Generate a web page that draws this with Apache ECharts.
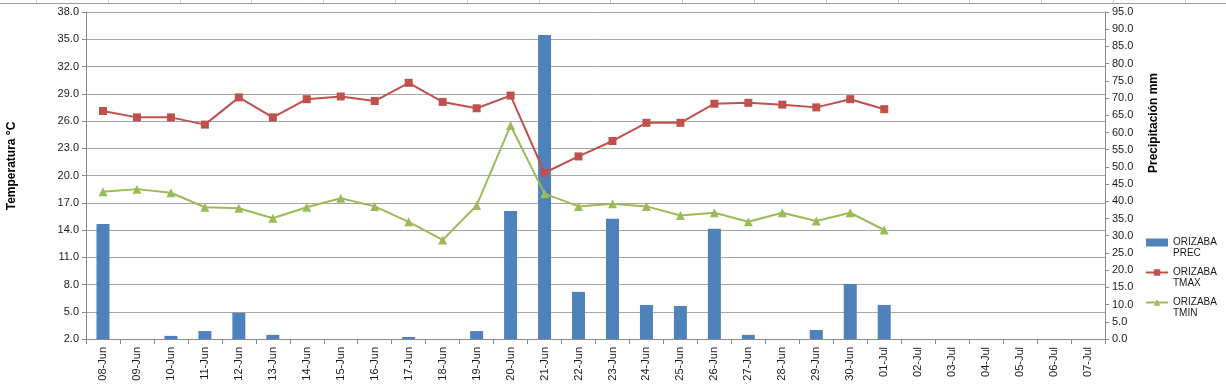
<!DOCTYPE html>
<html><head><meta charset="utf-8">
<script src="https://cdn.jsdelivr.net/npm/echarts@6/dist/echarts.min.js"></script>
<style>html,body{margin:0;padding:0;background:#fff}#c{width:1226px;height:392px}</style>
</head><body><div id="c"></div>
<script>
const categories = ['08-Jun','09-Jun','10-Jun','11-Jun','12-Jun','13-Jun','14-Jun','15-Jun','16-Jun','17-Jun','18-Jun','19-Jun','20-Jun','21-Jun','22-Jun','23-Jun','24-Jun','25-Jun','26-Jun','27-Jun','28-Jun','29-Jun','30-Jun','01-Jul','02-Jul','03-Jul','04-Jul','05-Jul','06-Jul','07-Jul'];
const precValues = [33.4,0,0.9,2.3,7.6,1.2,0,0,0,0.6,0,2.3,37.2,88.3,13.7,34.9,9.9,9.6,32.0,1.2,0,2.6,16.0,9.9,null,null,null,null,null,null];
const tmaxValues = [27.1,26.4,26.4,25.6,28.6,26.4,28.4,28.7,28.2,30.2,28.1,27.4,28.8,20.3,22.1,23.8,25.8,25.8,27.9,28.0,27.8,27.5,28.4,27.3,null,null,null,null,null,null];
const tminValues = [18.2,18.5,18.1,16.5,16.4,15.3,16.5,17.5,16.6,14.9,12.9,16.7,25.5,18.0,16.6,16.9,16.6,15.6,15.9,14.9,15.9,15.0,15.9,14.0,null,null,null,null,null,null];
const seriesNames = ['ORIZABA PREC','ORIZABA TMAX','ORIZABA TMIN'];
const leftTitle = 'Temperatura °C';
const rightTitle = 'Precipitación mm';

const FONT = 'Liberation Sans';
const chart = echarts.init(document.getElementById('c'), null, {renderer:'canvas'});
const sheetLines = [];
for (let i = 0; i < 17; i++) {
  const x = 36 + i * 71.8;
  sheetLines.push({type:'line', silent:true, shape:{x1:Math.round(x)+0.5,y1:0,x2:Math.round(x)+0.5,y2:3}, style:{stroke:'#c6ccd6',lineWidth:1}});
}
sheetLines.push({type:'line', silent:true, shape:{x1:0,y1:3.5,x2:1226,y2:3.5}, style:{stroke:'#9a9a9a',lineWidth:1}});

chart.setOption({
  animation:false,
  backgroundColor:'#ffffff',
  textStyle:{fontFamily:FONT},
  grid:{left:86,right:121,top:12,bottom:53,containLabel:false},
  legend:{
    orient:'vertical', left:1140, top:221, itemWidth:22, itemHeight:8, itemGap:-3,
    textStyle:{fontFamily:FONT,fontSize:10,color:'#1a1a1a',lineHeight:11},
    formatter: n => '\n' + n.replace(' ', '\n'),
    data:[{name:seriesNames[0],icon:'rect'},{name:seriesNames[1]},{name:seriesNames[2]}]
  },
  xAxis:{
    type:'category', data:categories, boundaryGap:true,
    axisLine:{lineStyle:{color:'#8a8a8a'}},
    axisTick:{show:true,length:5,lineStyle:{color:'#8a8a8a'},alignWithLabel:false},
    axisLabel:{rotate:90,fontSize:11,color:'#1a1a1a',fontFamily:FONT,margin:8,interval:0}
  },
  yAxis:[
    {type:'value',min:2,max:38,interval:3,position:'left',
     axisLine:{show:true,lineStyle:{color:'#8a8a8a'}},
     axisTick:{show:true,length:4,lineStyle:{color:'#8a8a8a'}},
     axisLabel:{formatter:v=>v.toFixed(1),fontSize:11,color:'#1a1a1a',fontFamily:FONT,margin:7},
     splitLine:{show:true,lineStyle:{color:'#a6a6a6',width:1}}},
    {type:'value',min:0,max:95,interval:5,position:'right',
     axisLine:{show:true,lineStyle:{color:'#8a8a8a'}},
     axisTick:{show:true,length:4,lineStyle:{color:'#8a8a8a'}},
     axisLabel:{formatter:v=>v.toFixed(1),fontSize:11,color:'#1a1a1a',fontFamily:FONT,margin:7},
     splitLine:{show:false}}
  ],
  graphic:[
    ...sheetLines,
    {type:'text', x:12, y:166, rotation:Math.PI/2,
     style:{text:leftTitle, font:'bold 12px "Liberation Sans"', fill:'#000', align:'center', verticalAlign:'middle'}},
    {type:'text', x:1154, y:123, rotation:Math.PI/2,
     style:{text:rightTitle, font:'bold 12px "Liberation Sans"', fill:'#000', align:'center', verticalAlign:'middle'}}
  ],
  series:[
    {name:seriesNames[0], type:'bar', yAxisIndex:1, data:precValues, barWidth:13,
     itemStyle:{color:'#4f81bd'}, z:1},
    {name:seriesNames[1], type:'line', yAxisIndex:0, data:tmaxValues, symbol:'rect', symbolSize:8,
     lineStyle:{color:'#c0504d',width:2}, itemStyle:{color:'#c0504d'}, z:3},
    {name:seriesNames[2], type:'line', yAxisIndex:0, data:tminValues, symbol:'triangle', symbolSize:9,
     lineStyle:{color:'#9bbb59',width:2}, itemStyle:{color:'#9bbb59'}, z:2}
  ]
});
</script></body></html>
